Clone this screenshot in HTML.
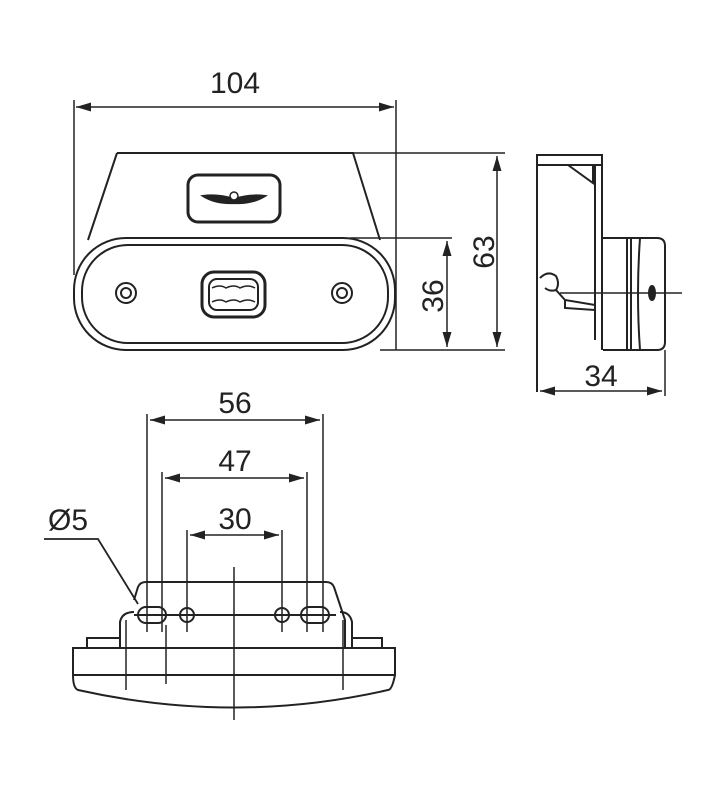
<!DOCTYPE html>
<html><head><meta charset="utf-8"><style>
html,body{margin:0;padding:0;background:#fff}
svg{display:block}
text{font-family:"Liberation Sans",sans-serif;font-size:30px;fill:#222}
</style></head><body>
<svg width="725" height="800" viewBox="0 0 725 800" xmlns="http://www.w3.org/2000/svg">
<defs>
<marker id="a" viewBox="0 0 10 6" refX="10" refY="3" markerWidth="10" markerHeight="6" orient="auto-start-reverse"><path d="M0,0L10,3L0,6z" fill="#222"/></marker>
</defs>
<g stroke="#222" fill="none" stroke-width="2">
<!-- front view -->
<line x1="74" y1="100" x2="74" y2="275" stroke-width="1.5"/>
<line x1="396" y1="100" x2="396" y2="350" stroke-width="1.5"/>
<line x1="76" y1="107" x2="394" y2="107" stroke-width="1.5" marker-start="url(#a)" marker-end="url(#a)"/>
<path d="M117,153 L353,153 L380,240"/>
<path d="M117,153 L88,240"/>
<rect x="74" y="238" width="321" height="112" rx="52"/>
<rect x="82" y="245" width="306" height="98" rx="46"/>
<rect x="188" y="175" width="92" height="47" rx="10" stroke-width="3"/>
<path d="M203,196 Q218,194 234,199 Q250,194 265,196 Q252,204 234,203 Q216,204 203,196z" fill="#222"/>
<circle cx="234" cy="196" r="4" fill="#fff" stroke-width="1.5"/>
<rect x="202" y="272" width="63" height="45" rx="12" stroke-width="3"/>
<rect x="209" y="279" width="49" height="31" rx="8"/>
<path d="M212,288 Q220,284 226,288 Q234,284 240,288 Q248,284 255,288 M212,302 Q220,298 226,302 Q234,298 240,302 Q248,298 255,302" stroke-width="1.5"/>
<circle cx="126" cy="293" r="10"/><circle cx="126" cy="293" r="5"/>
<circle cx="342" cy="293" r="10"/><circle cx="342" cy="293" r="5"/>
<line x1="353" y1="153" x2="505" y2="153" stroke-width="1.5"/>
<line x1="380" y1="350" x2="505" y2="350" stroke-width="1.5"/>
<line x1="497" y1="156" x2="497" y2="347" stroke-width="1.5" marker-start="url(#a)" marker-end="url(#a)"/>
<line x1="350" y1="238" x2="452" y2="238" stroke-width="1.5"/>
<line x1="447" y1="241" x2="447" y2="347" stroke-width="1.5" marker-start="url(#a)" marker-end="url(#a)"/>
<!-- side view -->
<path d="M537,392 L537,155 L602,155 L602,350"/>
<line x1="537" y1="165" x2="602" y2="165"/>
<path d="M568,165 L593,183 L593,165"/>
<line x1="595" y1="165" x2="595" y2="340"/>
<path d="M602,238 L657,238 Q665,238 665,246 L665,342 Q665,350 657,350 L603,350"/>
<line x1="627" y1="238" x2="627" y2="350"/>
<line x1="631" y1="238" x2="631" y2="350"/>
<path d="M640,238 Q636,294 640,350"/>
<ellipse cx="652" cy="293" rx="3" ry="7" fill="#222"/>
<path d="M540,278 Q548,270 556,276 Q560,284 556,290 L565,300 L595,305 M545,288 Q550,292 556,290 M565,300 L565,308 L595,310"/>
<line x1="560" y1="293" x2="682" y2="293" stroke-width="1.5"/>
<line x1="665" y1="350" x2="665" y2="396" stroke-width="1.5"/>
<line x1="540" y1="391" x2="662" y2="391" stroke-width="1.5" marker-start="url(#a)" marker-end="url(#a)"/>
<!-- bottom view -->
<line x1="147" y1="414" x2="147" y2="632" stroke-width="1.5"/>
<line x1="323" y1="414" x2="323" y2="632" stroke-width="1.5"/>
<line x1="150" y1="420" x2="320" y2="420" stroke-width="1.5" marker-start="url(#a)" marker-end="url(#a)"/>
<line x1="162" y1="472" x2="162" y2="632" stroke-width="1.5"/>
<line x1="307" y1="472" x2="307" y2="632" stroke-width="1.5"/>
<line x1="165" y1="478" x2="304" y2="478" stroke-width="1.5" marker-start="url(#a)" marker-end="url(#a)"/>
<line x1="187" y1="530" x2="187" y2="632" stroke-width="1.5"/>
<line x1="282" y1="530" x2="282" y2="632" stroke-width="1.5"/>
<line x1="190" y1="535" x2="279" y2="535" stroke-width="1.5" marker-start="url(#a)" marker-end="url(#a)"/>
<path d="M44,539 L98,539 L138,604" stroke-width="1.8"/>
<path d="M134,600 L138,587 Q140,582 146,582 L326,582 Q332,582 334,587 L345,620 L345,648"/>
<path d="M120,648 L120,622 Q122,612 134,612 M352,648 L352,622 Q350,612 340,612"/>
<line x1="134" y1="615" x2="336" y2="615"/>
<rect x="138" y="607" width="28" height="16" rx="8"/>
<rect x="301" y="607" width="28" height="16" rx="8"/>
<circle cx="187" cy="615" r="7"/><circle cx="282" cy="615" r="7"/>
<path d="M87,648 L87,638 L120,638 M352,638 L382,638 L382,648"/>
<path d="M73,648 L395,648 L395,675 Q392,690 388,690 Q234,725 78,690 Q73,688 73,675 Z"/>
<line x1="73" y1="675" x2="395" y2="675"/>
<line x1="126" y1="620" x2="126" y2="690" stroke-width="1.5"/>
<line x1="166" y1="625" x2="166" y2="684" stroke-width="1.5"/>
<line x1="343" y1="620" x2="343" y2="690" stroke-width="1.5"/>
<line x1="234" y1="567" x2="234" y2="720" stroke-width="1.5"/>
</g>
<text x="235" y="93" text-anchor="middle">104</text>
<text transform="translate(494,252) rotate(-90)" text-anchor="middle">63</text>
<text transform="translate(443,296) rotate(-90)" text-anchor="middle">36</text>
<text x="601" y="386" text-anchor="middle">34</text>
<text x="235" y="413" text-anchor="middle">56</text>
<text x="235" y="471" text-anchor="middle">47</text>
<text x="235" y="529" text-anchor="middle">30</text>
<text x="68" y="530" text-anchor="middle">Ø5</text>
</svg>
</body></html>
